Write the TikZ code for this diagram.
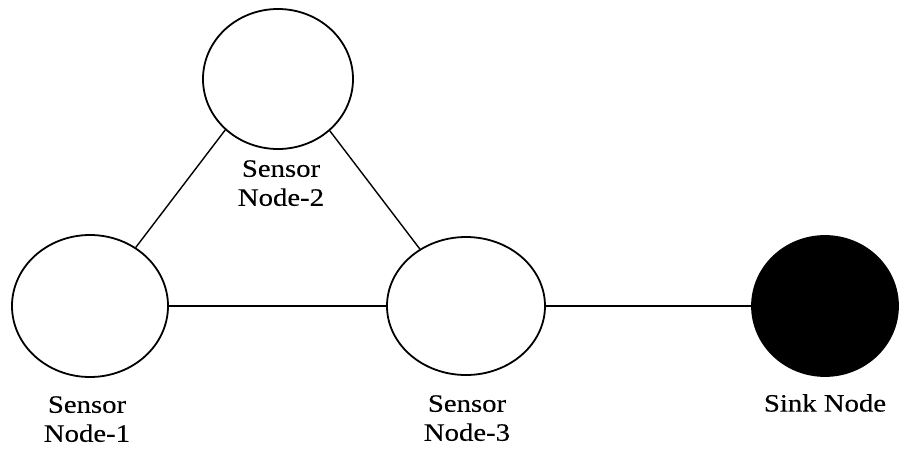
\documentclass[tikz,border=0pt]{standalone}
\usepackage{fontspec}
\setmainfont{Liberation Serif}[FakeStretch=1.15,FakeBold=0.3]
\usetikzlibrary{shapes.geometric}
\begin{document}
\begin{tikzpicture}[x=1pt,y=-1pt,
  sensorbox/.style={ellipse,draw=black,line width=1.8pt,fill=white,inner sep=0pt},
  sinkbox/.style={ellipse,draw=black,line width=1.8pt,fill=black,inner sep=0pt},
  lbl/.style={font=\fontsize{25}{29}\selectfont,align=center,inner sep=0pt,anchor=north},
  link/.style={draw=black,line width=1.4pt}]
\useasboundingbox[fill=white] (0,0) rectangle (900,448);
\node[sensorbox,minimum width=150pt,minimum height=140pt] (n2) at (278,79) {};
\node[sensorbox,minimum width=156pt,minimum height=142pt] (n1) at (90,306) {};
\node[sensorbox,minimum width=158pt,minimum height=138pt] (n3) at (466,306) {};
\node[sinkbox,minimum width=146pt,minimum height=140pt] (sink) at (825,306) {};
\node[lbl] (l2) at (281,160) {Sensor\\Node-2};
\node[lbl] (l1) at (87,396) {Sensor\\Node-1};
\node[lbl] (l3) at (467,395) {Sensor\\Node-3};
\node[lbl] (ls) at (825,394) {Sink Node};
\draw[link] (n2.224) -- (n1.52);
\draw[link] (n2.315) -- (n3.129);
\draw[link] (n1.east) -- (n3.west);
\draw[link] (n3.east) -- (sink.west);
\end{tikzpicture}
\end{document}
